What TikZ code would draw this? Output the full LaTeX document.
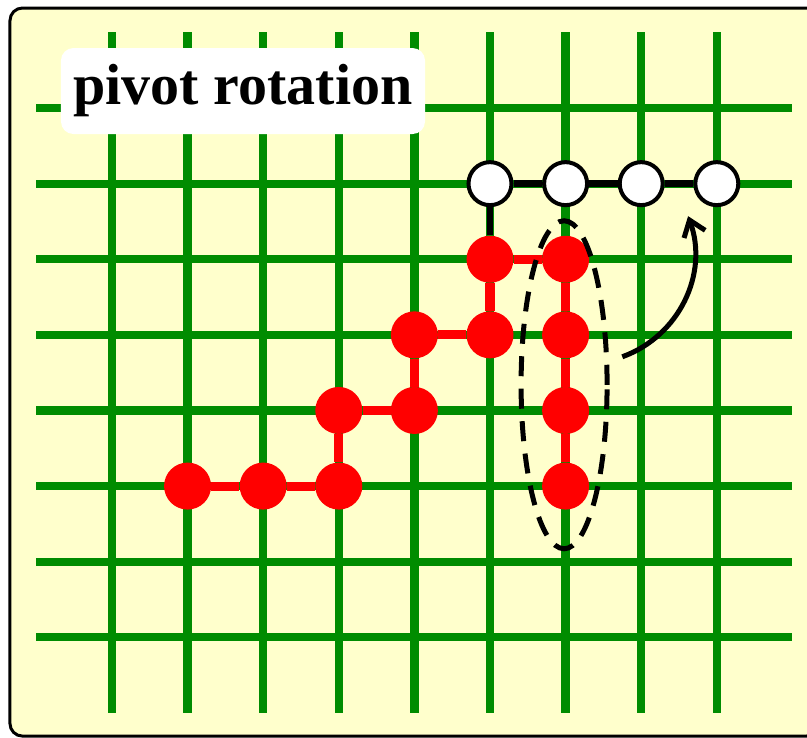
\documentclass[tikz,border=0pt]{standalone}
\usepackage{fontspec}
\setmainfont{Liberation Serif}
\usetikzlibrary{arrows.meta}
\definecolor{gridgreen}{RGB}{0,140,0}
\definecolor{paper}{RGB}{255,255,204}
\begin{document}
\begin{tikzpicture}[x=1.512cm,y=-1.512cm,
 bead/.style={circle,inner sep=0pt,minimum size=0.94cm},
 redbead/.style={bead,fill=red},
 whitebead/.style={bead,draw=black,fill=white,line width=0.08cm,minimum size=0.86cm},
 redlink/.style={red,line width=0.18cm},
 blacklink/.style={black,line width=0.13cm},
 lattice/.style={gridgreen,line width=0.165cm}]
 \useasboundingbox (-1.481,-1.429) rectangle (9.193,8.320);
 \draw[line width=0.06cm,rounded corners=0.25cm,fill=paper]
  (-1.349,-1.323) rectangle (9.35,8.307);
 % lattice
 \foreach \i in {0,...,8} \draw[lattice] (\i,-1) -- (\i,8);
 \foreach \j in {0,...,7} \draw[lattice] (-1,\j) -- (9,\j);
 % chain
 \foreach \p [count=\k] in {{1,5},{2,5},{3,5},{3,4},{4,4},{4,3},{5,3},{5,2},{6,2},{6,3},{6,4},{6,5}}
  \node[redbead] (r\k) at (\p) {};
 \foreach \p [count=\k] in {{5,1},{6,1},{7,1},{8,1}}
  \node[whitebead] (w\k) at (\p) {};
 \draw[redlink] (r1) -- (r2) -- (r3) -- (r4) -- (r5) -- (r6) -- (r7) -- (r8)
  -- (r9) -- (r10) -- (r11) -- (r12);
 \draw[blacklink] (r8) -- (w1) -- (w2) -- (w3) -- (w4);
 % pivot part
 \draw[line width=0.1cm,dash pattern=on 0.4cm off 0.25cm]
  (5.98,3.66) ellipse [x radius=0.86cm,y radius=3.28cm];
 \coordinate (a0) at (6.75,3.29);
 \coordinate (a1) at (7.62,1.43);
 \draw[-{Straight Barb[length=0.3cm,width=0.45cm]},line width=0.1cm]
  (a0) to[bend right=45] (a1);
 \node[fill=white,rounded corners=0.25cm,minimum width=7.28cm,minimum height=1.72cm,
  font=\fontsize{33}{39}\selectfont\bfseries] (title) at (1.733,-0.225)
  {pivot rotation\hspace{0.2cm}};
\end{tikzpicture}
\end{document}
